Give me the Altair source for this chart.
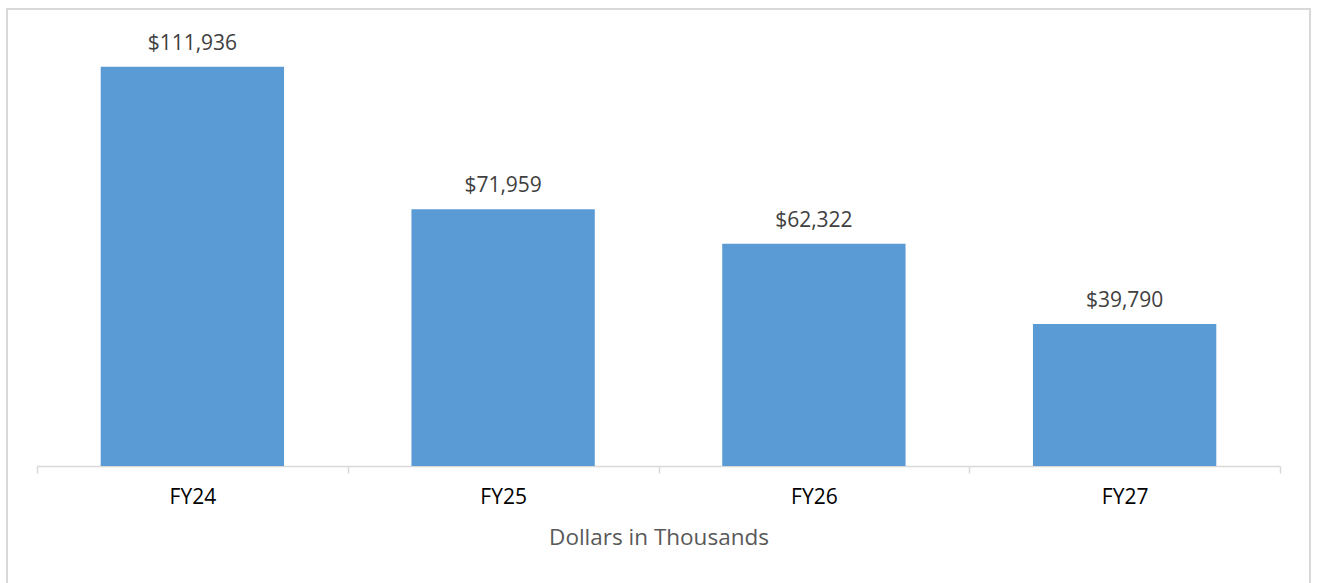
import altair as alt
import pandas as pd

categories = ["FY24", "FY25", "FY26", "FY27"]
values = [111936, 71959, 62322, 39790]
labels = ["$111,936", "$71,959", "$62,322", "$39,790"]

df = pd.DataFrame({"cat": categories, "val": values, "label": labels})

FONT = "Open Sans"

x = alt.X("cat:N", sort=categories,
          scale=alt.Scale(paddingInner=0, paddingOuter=0),
          axis=alt.Axis(title="Dollars in Thousands", labelAngle=0,
                        tickBand="extent", domainColor="#d9d9d9", tickColor="#d9d9d9",
                        domainWidth=1.5, tickWidth=1.5, tickSize=7,
                        labelFont=FONT, labelFontSize=21, labelColor="#000000",
                        labelPadding=13, titleFont=FONT, titleFontSize=22.5,
                        titleFontWeight="normal", titleColor="#595959", titlePadding=19))
y = alt.Y("val:Q", scale=alt.Scale(domain=[0, 120000], nice=False), axis=None)

border = alt.Chart(df).mark_rect(fill=None, stroke="#d9d9d9", strokeWidth=1.5).encode(
    x=alt.value(-30), x2=alt.value(1273), y=alt.value(-29), y2=alt.value(600))

bars = alt.Chart(df).mark_bar(color="#5B9BD5", width=alt.RelativeBandSize(0.59)).encode(x=x, y=y)
text = alt.Chart(df).mark_text(dy=-13, baseline="bottom", font=FONT, fontSize=21,
                               color="#404040").encode(x=x, y=y, text="label:N")

chart = alt.layer(border, bars, text).properties(
    width=1243, height=428,
    background="white",
    autosize=alt.AutoSizeParams(type="none"),
    padding={"left": 37, "top": 38, "right": 38, "bottom": 117},
).configure_view(strokeWidth=0)

chart.save("out.html", embed_options={"renderer": "svg", "actions": False})
